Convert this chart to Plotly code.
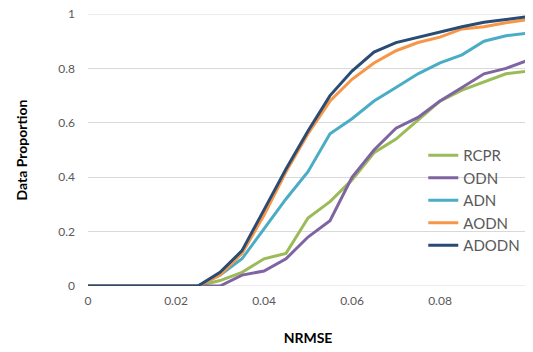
import plotly.graph_objects as go

x_vals = [0, 0.005, 0.01, 0.015, 0.02, 0.025, 0.03, 0.035, 0.04, 0.045, 0.05,
          0.055, 0.06, 0.065, 0.07, 0.075, 0.08, 0.085, 0.09, 0.095, 0.1]

rcpr  = [0, 0, 0, 0, 0, 0, 0.02, 0.05, 0.10, 0.12, 0.25, 0.31, 0.39, 0.49, 0.54, 0.61, 0.68, 0.72, 0.75, 0.78, 0.79]
odn   = [0, 0, 0, 0, 0, 0, 0.00, 0.04, 0.055, 0.10, 0.18, 0.24, 0.40, 0.50, 0.58, 0.62, 0.68, 0.73, 0.78, 0.80, 0.83]
adn   = [0, 0, 0, 0, 0, 0, 0.04, 0.10, 0.21, 0.32, 0.42, 0.56, 0.615, 0.68, 0.73, 0.78, 0.82, 0.85, 0.90, 0.92, 0.93]
aodn  = [0, 0, 0, 0, 0, 0, 0.04, 0.12, 0.26, 0.42, 0.56, 0.68, 0.76, 0.82, 0.865, 0.895, 0.915, 0.945, 0.953, 0.968, 0.98]
adodn = [0, 0, 0, 0, 0, 0, 0.05, 0.13, 0.28, 0.43, 0.57, 0.70, 0.79, 0.86, 0.895, 0.915, 0.935, 0.953, 0.97, 0.98, 0.99]

series_names = ["RCPR", "ODN", "ADN", "AODN", "ADODN"]
series_vals = [rcpr, odn, adn, aodn, adodn]
colors = ["#9BBB59", "#8064A2", "#4BACC6", "#F79646", "#2A4B73"]

x_tickvals = [0, 0.02, 0.04, 0.06, 0.08, 0.1]
x_ticktext = ["0", "0.02", "0.04", "0.06", "0.08", "1"]
y_tickvals = [0, 0.2, 0.4, 0.6, 0.8, 1]
y_ticktext = ["0", "0.2", "0.4", "0.6", "0.8", "1"]

fig = go.Figure()
for name, vals, c in zip(series_names, series_vals, colors):
    fig.add_trace(go.Scatter(x=x_vals, y=vals, mode="lines", name=name,
                             line=dict(color=c, width=3), cliponaxis=False))

fig.update_layout(
    width=525, height=344,
    margin=dict(l=80, r=5, t=6, b=66, autoexpand=False),
    paper_bgcolor="white", plot_bgcolor="white",
    font=dict(family="Lato, Open Sans, sans-serif", color="#595959", size=12),
    legend=dict(x=0.762, y=0.54, xanchor="left", yanchor="top",
                bgcolor="rgba(0,0,0,0)", font=dict(size=15, color="#595959"),
                itemwidth=30, tracegroupgap=0),
    showlegend=True,
)
# the end tick sits exactly on the plot edge, where plotly drops it; label it via the x scale
fig.update_xaxes(range=[0, 0.1], tickvals=x_tickvals[:-1], ticktext=x_ticktext[:-1],
                 showgrid=False, zeroline=False, showline=False, ticks="",
                 automargin=False, ticklabelstandoff=6, ticklabeloverflow="allow",
                 tickfont=dict(size=12, color="#595959"),
                 title=dict(text="<b>NRMSE</b>", font=dict(size=14, color="#000000"), standoff=26))
fig.add_annotation(x=x_tickvals[-1], xref="x", y=0, yref="paper", yanchor="top",
                   yshift=-6, text=x_ticktext[-1], showarrow=False,
                   font=dict(size=12, color="#595959"))
fig.update_yaxes(range=[0, 1], tickvals=y_tickvals, ticktext=y_ticktext,
                 showgrid=True, gridcolor="#D9D9D9", gridwidth=1,
                 zeroline=False, showline=False, ticks="",
                 automargin=False, ticklabelstandoff=12, ticklabeloverflow="allow",
                 tickfont=dict(size=12, color="#595959"),
                 title=dict(text="<b>Data Proportion</b>", font=dict(size=14, color="#000000"), standoff=27))
for yv in (y_tickvals[0], y_tickvals[-1]):
    fig.add_hline(y=yv, line=dict(color="#D9D9D9", width=1), layer="below")

fig.write_html("out.html")
